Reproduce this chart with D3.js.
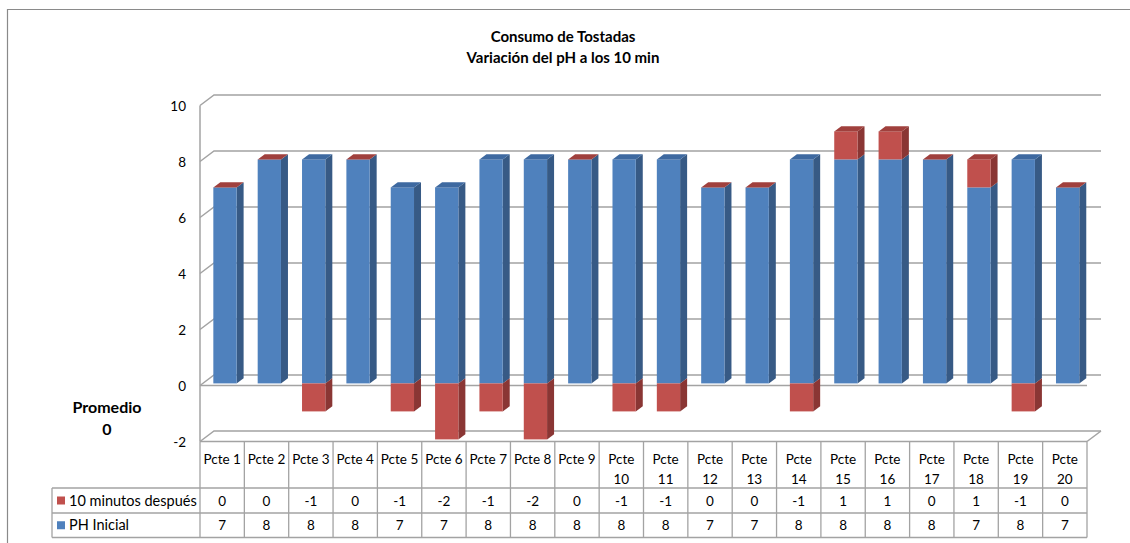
<!DOCTYPE html>
<html>
<head>
<meta charset="utf-8">
<script src="https://cdn.jsdelivr.net/npm/d3@7"></script>
<style>
  html, body { margin: 0; padding: 0; background: #fff; }
  svg { display: block; font-family: Lato, "Liberation Sans", sans-serif; }
</style>
</head>
<body>
<svg id="chart" width="1130" height="543"></svg>
<script>
// Patients, initial pH and change after 10 minutes
const categories = ["Pcte 1","Pcte 2","Pcte 3","Pcte 4","Pcte 5","Pcte 6","Pcte 7","Pcte 8","Pcte 9","Pcte 10",
                    "Pcte 11","Pcte 12","Pcte 13","Pcte 14","Pcte 15","Pcte 16","Pcte 17","Pcte 18","Pcte 19","Pcte 20"];
const phInicial = [7,8,8,8,7,7,8,8,8,8,8,7,7,8,8,8,8,7,8,7];
const cambio10 = [0,0,-1,0,-1,-2,-1,-2,0,-1,-1,0,0,-1,1,1,0,1,-1,0];
const seriesNames = ["10 minutos después", "PH Inicial"];
const yTicks = [-2, 0, 2, 4, 6, 8, 10];
const titleLines = ["Consumo de Tostadas", "Variación del pH a los 10 min"];
const promedioLines = ["Promedio", "0"];

const svg = d3.select("#chart");

// 3D projection: depth shifts points right and up
const DX = 14, DY = -10.5;
const F1 = 0.2, F2 = 0.7;   // bar front / back depth fractions

const x = d3.scaleBand().domain(categories).range([200, 1087])
  .paddingInner(0.475).paddingOuter(0.2375);
const step = x.step();
const y = d3.scaleLinear().domain([-2, 10]).range([441.5, 105.5]);

const colors = {
  blue:  { front: "#4F81BD", side: "#375A85", top: "#3E69A0" },
  red:   { front: "#C0504D", side: "#8A3634", top: "#A0403D" }
};
const gridColor = "#A3A3A3";

// Outer frame (top and left edges)
svg.append("path")
  .attr("d", "M7.5,543 L7.5,9.5 L1130,9.5")
  .attr("fill", "none").attr("stroke", "#8A8A8A").attr("stroke-width", 1.2);

// Title
const title = svg.append("text").attr("text-anchor", "middle")
  .attr("font-weight", "bold").attr("font-size", 15).attr("fill", "#000");
titleLines.forEach((t, i) => {
  title.append("tspan").attr("x", 563).attr("y", 42 + i * 21).text(t);
});

// Gridlines: left wall slant + back wall line
const xL = x.range()[0], xR = x.range()[1];
const grid = svg.append("g").attr("fill", "none").attr("stroke", gridColor).attr("stroke-width", 1.5);
yTicks.forEach(v => {
  const yf = y(v);
  grid.append("path")
    .attr("d", `M${xL},${yf} L${xL + DX},${yf + DY} L${xR + DX},${yf + DY}`);
});
// Front edges at 0 and at the floor
[0, -2].forEach(v => {
  grid.append("path").attr("d", `M${xL},${y(v)} L${xR},${y(v)}`);
});
// Right end of floor
grid.append("path").attr("d", `M${xR},${y(-2)} L${xR + DX},${y(-2) + DY}`);
// Front vertical axis
grid.append("path").attr("d", `M${xL},${y(10)} L${xL},${y(-2)}`);

// Y tick labels
svg.append("g").selectAll("text").data(yTicks).join("text")
  .attr("x", 186).attr("y", d => y(d) + 5)
  .attr("text-anchor", "end").attr("font-size", 13.5).attr("fill", "#000")
  .text(d => d);

// Segments of each stacked bar
const segments = [];
categories.forEach((c, i) => {
  const ph = phInicial[i], d = cambio10[i];
  const blue = { cat: c, v0: 0, v1: ph, col: colors.blue, top: d < 0 };
  let red;
  if (d >= 0) red = { cat: c, v0: ph, v1: ph + d, col: colors.red, top: true };
  else red = { cat: c, v0: d, v1: 0, col: colors.red, top: false };
  segments.push(blue, red);
});

const P = (px, v, f) => [px + f * DX, y(v) + f * DY];
const poly = pts => "M" + pts.map(p => p.join(",")).join("L") + "Z";

const bars = svg.append("g");
segments.forEach(s => {
  const x0 = x(s.cat), x1 = x0 + x.bandwidth();
  // side face
  bars.append("path")
    .attr("d", poly([P(x1, s.v1, F1), P(x1, s.v1, F2), P(x1, s.v0, F2), P(x1, s.v0, F1)]))
    .attr("fill", s.col.side);
  // front face
  const [fx, fy1] = P(x0, s.v1, F1);
  const fy0 = P(x0, s.v0, F1)[1];
  bars.append("rect")
    .attr("x", fx).attr("y", fy1)
    .attr("width", x.bandwidth()).attr("height", Math.max(0, fy0 - fy1))
    .attr("fill", s.col.front);
  // top face
  if (s.top) {
    bars.append("path")
      .attr("d", poly([P(x0, s.v1, F1), P(x0, s.v1, F2), P(x1, s.v1, F2), P(x1, s.v1, F1)]))
      .attr("fill", s.col.top);
  }
});

// Data table
const rowTop = y(-2), r1 = 488, r2 = 513, r3 = 537.5;
const tableX0 = 52;
const tbl = svg.append("g").attr("stroke", gridColor).attr("stroke-width", 1.3).attr("fill", "none");
// column separators
d3.range(categories.length + 1).forEach(k => {
  const cx = xL + k * step;
  tbl.append("path").attr("d", `M${cx},${rowTop} L${cx},${r3}`);
});
// row lines
[r1, r2, r3].forEach(ry => tbl.append("path").attr("d", `M${tableX0},${ry} L${xR},${ry}`));
tbl.append("path").attr("d", `M${tableX0},${r1} L${tableX0},${r3}`);

// Category headers
const hdr = svg.append("g").attr("font-size", 13.5).attr("fill", "#000").attr("text-anchor", "middle");
categories.forEach(c => {
  const cx = x(c) + x.bandwidth() / 2;
  const t = hdr.append("text");
  const parts = c.split(" ");
  if (parts[1].length > 1) {
    t.append("tspan").attr("x", cx).attr("y", 464).text(parts[0]);
    t.append("tspan").attr("x", cx).attr("y", 483.5).text(parts[1]);
  } else {
    t.append("tspan").attr("x", cx).attr("y", 464).text(c);
  }
});

// Table values
const rows = [
  { name: seriesNames[0], vals: cambio10, color: colors.red.front, cy: (r1 + r2) / 2 },
  { name: seriesNames[1], vals: phInicial, color: colors.blue.front, cy: (r2 + r3) / 2 }
];
rows.forEach(r => {
  svg.append("g").selectAll("text").data(r.vals).join("text")
    .attr("x", (d, i) => x(categories[i]) + x.bandwidth() / 2)
    .attr("y", r.cy + 5)
    .attr("text-anchor", "middle").attr("font-size", 13.5).attr("fill", "#000")
    .text(d => d);
  svg.append("rect").attr("x", 57).attr("y", r.cy - 4).attr("width", 8).attr("height", 8)
    .attr("fill", r.color);
  svg.append("text").attr("x", 69).attr("y", r.cy + 5)
    .attr("font-size", 14.5).attr("fill", "#000").text(r.name);
});

// Average label
const prom = svg.append("text").attr("text-anchor", "middle")
  .attr("font-weight", "bold").attr("font-size", 16).attr("fill", "#000");
promedioLines.forEach((t, i) => {
  prom.append("tspan").attr("x", 107).attr("y", 413 + i * 22).text(t);
});
</script>
</body>
</html>
